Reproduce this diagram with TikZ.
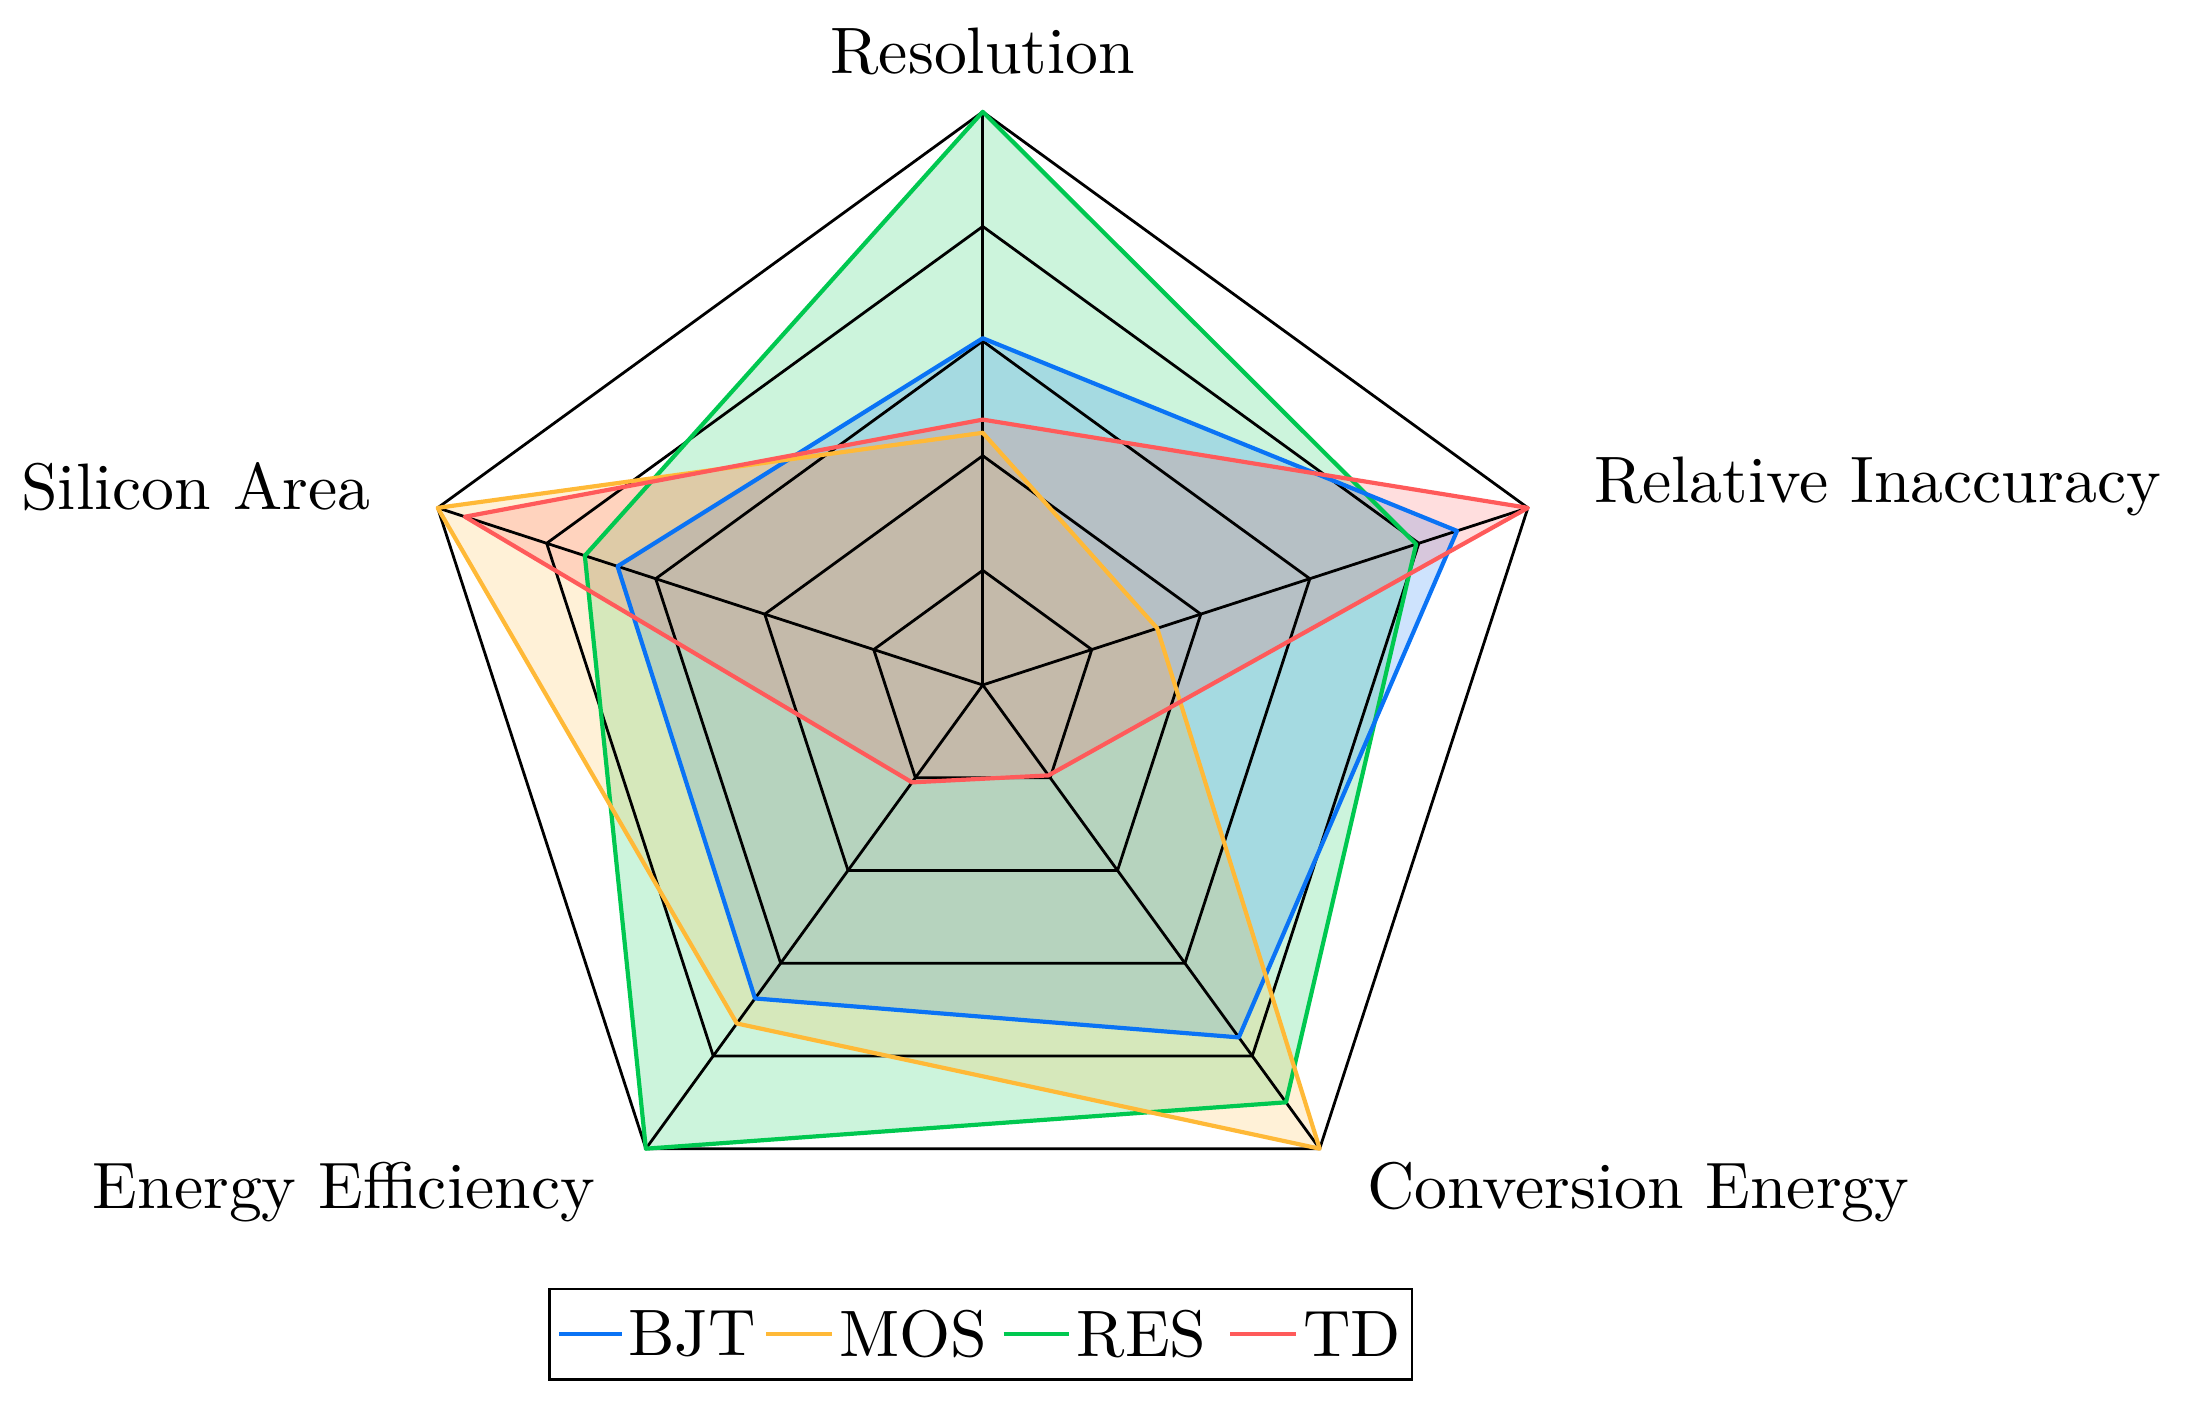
\documentclass[tikz,border=0pt]{standalone}
\begin{document}
\begin{tikzpicture}[x=0.5pt,y=0.5pt,
  lab/.style={font=\fontsize{10}{12}\selectfont,scale=2.35,transform shape},
  ser/.style={line width=1.5pt,line join=round}]
\definecolor{colB}{RGB}{10,115,245}
\definecolor{colM}{RGB}{255,185,55}
\definecolor{colR}{RGB}{0,200,80}
\definecolor{colT}{RGB}{255,90,90}
\useasboundingbox (0,0) rectangle (1568,1005);
\begin{scope}[shift={(703,515)}]
\def\R{410}
\newcommand{\poly}[5]{(90:#1*\R) -- (18:#2*\R) -- (-54:#3*\R) -- (-126:#4*\R) -- (162:#5*\R) -- cycle}
\fill[colR,opacity=0.2] \poly{1}{0.795}{0.9}{1}{0.73};
\fill[colB,opacity=0.2] \poly{0.605}{0.87}{0.76}{0.676}{0.67};
\fill[colM,opacity=0.2] \poly{0.44}{0.32}{1}{0.73}{1};
\fill[colT,opacity=0.2] \poly{0.463}{1}{0.195}{0.21}{0.95};
\foreach \k in {0.2,0.4,0.6,0.8,1}
  \draw[black,line width=1pt] \poly{\k}{\k}{\k}{\k}{\k};
\foreach \a in {90,18,-54,-126,162}
  \draw[black,line width=1pt] (0,0) -- (\a:\R);
\draw[ser,colR] \poly{1}{0.795}{0.9}{1}{0.73};
\draw[ser,colB] \poly{0.605}{0.87}{0.76}{0.676}{0.67};
\draw[ser,colM] \poly{0.44}{0.32}{1}{0.73}{1};
\draw[ser,colT] \poly{0.463}{1}{0.195}{0.21}{0.95};
\end{scope}
\node[lab] (l1) at (703,968) {Resolution};
\node[lab] (l2) at (1343,657) {Relative Inaccuracy};
\node[lab] (l3) at (1172,152) {Conversion Energy};
\node[lab] (l4) at (246,152) {Energy Efficiency};
\node[lab] (l5) at (140,657) {Silicon Area};
\draw[line width=1pt] (393,18) rectangle (1010,83);
\draw[ser,colB] (400,51) -- (445,51);
\node[lab,anchor=west,inner sep=0.5pt] (t1) at (446,51) {BJT};
\draw[ser,colM] (548,51) -- (595,51);
\node[lab,anchor=west,inner sep=0.5pt] (t2) at (597,51) {MOS};
\draw[ser,colR] (718,51) -- (765,51);
\node[lab,anchor=west,inner sep=0.5pt] (t3) at (767,51) {RES};
\draw[ser,colT] (880,51) -- (927,51);
\node[lab,anchor=west,inner sep=0.5pt] (t4) at (929,51) {TD};
\end{tikzpicture}
\end{document}
